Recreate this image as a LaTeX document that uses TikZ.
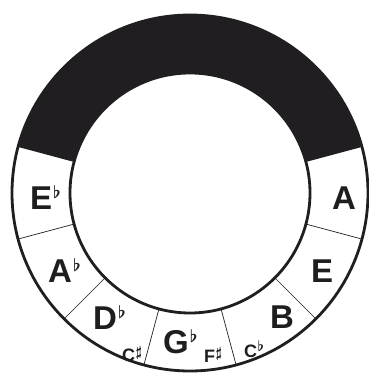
\documentclass[tikz,border=0pt]{standalone}
\usepackage{fontspec}
\setmainfont{Liberation Sans}
\usetikzlibrary{calc}
\definecolor{RingBlack} {RGB}{ 32, 30, 32}
\definecolor{KeyText}   {RGB}{ 30, 30, 30}
\newcommand{\RingOut}{178}
\newcommand{\RingIn}{120}
% raised accidentals: big ones after key names, small ones after spellings
\newcommand{\BigAcc}[1]{\kern1pt\raisebox{11pt}{\fontsize{17.28pt}{17.28pt}\selectfont\boldmath$#1$}}
\newcommand{\SmallAcc}[1]{\kern0.5pt\raisebox{6pt}{\fontsize{14.4pt}{14.4pt}\selectfont\boldmath$#1$}}
\tikzset{
  % Outer and inner rims of the ring
  rim/.style={
    draw=RingBlack, line width=2.8pt
  },
  % Thin lines between the keys
  divider/.style={
    draw=RingBlack, line width=0.7pt
  },
  % Main key name
  keyname/.style={
    font=\bfseries\fontsize{33pt}{33pt}\selectfont, text=KeyText,
    inner sep=0pt, anchor=base west
  },
  % Enharmonic spelling
  altname/.style={
    font=\bfseries\fontsize{18pt}{18pt}\selectfont, text=KeyText,
    inner sep=0pt, anchor=base west
  }
}

\begin{document}
\begin{tikzpicture}[x=1pt, y=1pt]

  \useasboundingbox (0,0) rectangle (369,376);
  \coordinate (c) at (190,183);

  % ── Black upper band ──────────────────────────────────────────────────────
  \fill[RingBlack] ($(c)+(15:\RingOut)$)
        arc[start angle=15, end angle=165, radius=\RingOut pt]
        -- ($(c)+(165:\RingIn)$)
        arc[start angle=165, end angle=15, radius=\RingIn pt] -- cycle;

  % ── Key dividers ──────────────────────────────────────────────────────────
  \foreach \a in {-15,-45,-75,-105,-135,-165}
    \draw[divider] ($(c)+(\a:\RingIn)$) -- ($(c)+(\a:\RingOut)$);

  % ── Rims ──────────────────────────────────────────────────────────────────
  \draw[rim] (c) circle[radius=\RingOut pt];
  \draw[rim] (c) circle[radius=\RingIn pt];

  % ── Key names (placed at their baselines) ─────────────────────────────────
  \node[keyname] (keyEb) at (30,166)  {E\BigAcc{\flat}};
  \node[keyname] (keyAb) at (48,94)   {A\BigAcc{\flat}};
  \node[keyname] (keyDb) at (93,46)   {D\BigAcc{\flat}};
  \node[altname] (keyCs) at (122,14)  {C\SmallAcc{\sharp}};
  \node[keyname] (keyGb) at (163,23)  {G\BigAcc{\flat}};
  \node[altname] (keyFs) at (204,13)  {F\SmallAcc{\sharp}};
  \node[keyname] (keyB)  at (270,48)  {B};
  \node[altname] (keyCb) at (244,19)  {C\SmallAcc{\flat}};
  \node[keyname] (keyE)  at (311,94)  {E};
  \node[keyname] (keyA)  at (332,167) {A};

\end{tikzpicture}
\end{document}
